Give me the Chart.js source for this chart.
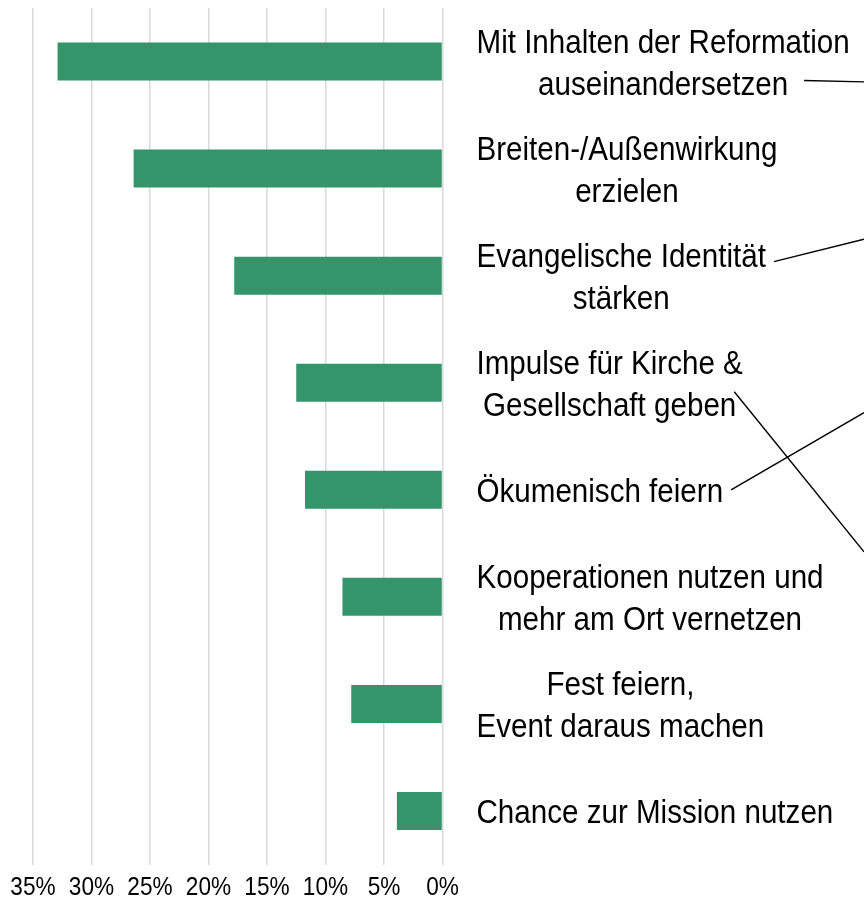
<!DOCTYPE html>
<html>
<head>
<meta charset="utf-8">
<script src="https://cdn.jsdelivr.net/npm/chart.js@4.4.1/dist/chart.umd.min.js"></script>
<style>
  html, body { margin: 0; padding: 0; background: #fff; }
  #wrap { width: 864px; height: 909px; }
</style>
</head>
<body>
<div id="wrap"><canvas id="myBarChart"></canvas></div>
<script>
// categories (one entry per bar, split into lines like the original)
var categories = [
    ['Mit Inhalten der Reformation', 'auseinandersetzen'],
    ['Breiten-/Außenwirkung', 'erzielen'],
    ['Evangelische Identität', 'stärken'],
    ['Impulse für Kirche &', 'Gesellschaft geben'],
    ['Ökumenisch feiern'],
    ['Kooperationen nutzen und', 'mehr am Ort vernetzen'],
    ['Fest feiern,', 'Event daraus machen'],
    ['Chance zur Mission nutzen']
];
// share of answers in percent
var shares = [32.9, 26.4, 17.8, 12.5, 11.75, 8.55, 7.8, 3.9];
var axisMax = 35;
var tickStep = 5;

var FONT = "'Liberation Sans', Arial, sans-serif";
var NARROW = 0.87; // the original uses a condensed face

// leader lines going off to the right edge: from label line end to a category position
var leaders = [
    { cat: 0, line: 1, dx: 16, dy: -2, toCat: 0.19 },
    { cat: 2, line: 0, dx: 8, dy: 7, toCat: 1.66 },
    { cat: 4, line: 0, dx: 8, dy: 0, toCat: 3.28 },
    { cat: 3, line: 1, dx: -2, dy: -12, toCat: 4.58 }
];

function narrowText(ctx, text, x, y, align) {
    ctx.save();
    ctx.translate(x, y);
    ctx.scale(NARROW, 1);
    ctx.textAlign = align;
    ctx.fillText(text, 0, 0);
    ctx.restore();
}

var labelPlugin = {
    id: 'labelPlugin',
    afterDraw: function (chart) {
        var ctx = chart.ctx;
        var xs = chart.scales.x;
        var ys = chart.scales.y;
        ctx.save();
        ctx.fillStyle = '#000';
        ctx.textBaseline = 'alphabetic';

        // x tick labels
        ctx.font = '26px ' + FONT;
        xs.ticks.forEach(function (t) {
            narrowText(ctx, t.value + '%', xs.getPixelForValue(t.value), 895, 'center');
        });

        // category labels right of the bars, lines centred on each other
        ctx.font = '34px ' + FONT;
        var lineH = 42;
        var x0 = xs.right + 34;
        var ends = [];
        categories.forEach(function (lines, i) {
            var cy = ys.getPixelForValue(i);
            var widths = lines.map(function (l) { return ctx.measureText(l).width * NARROW; });
            var w = Math.max.apply(null, widths);
            ends[i] = [];
            lines.forEach(function (l, k) {
                var mid = cy + (k - (lines.length - 1) / 2) * lineH;
                narrowText(ctx, l, x0 + w / 2, mid + 12, 'center');
                ends[i][k] = { x: x0 + w / 2 + widths[k] / 2, y: mid };
            });
        });

        // leader lines
        ctx.strokeStyle = '#000';
        ctx.lineWidth = 1.4;
        leaders.forEach(function (ld) {
            var s = ends[ld.cat][ld.line];
            ctx.beginPath();
            ctx.moveTo(s.x + ld.dx, s.y + ld.dy);
            ctx.lineTo(chart.width, ys.getPixelForValue(ld.toCat));
            ctx.stroke();
        });
        ctx.restore();
    }
};

var chart = new Chart(document.getElementById('myBarChart').getContext('2d'), {
    type: 'bar',
    data: {
        labels: categories,
        datasets: [{
            data: shares,
            backgroundColor: '#339569',
            borderWidth: 0,
            categoryPercentage: 1,
            barPercentage: 0.355
        }]
    },
    options: {
        indexAxis: 'y',
        responsive: true,
        maintainAspectRatio: false,
        animation: false,
        layout: { padding: { left: 33, right: 421.5, top: 8, bottom: 44.5 } },
        plugins: { legend: { display: false }, tooltip: { enabled: false } },
        scales: {
            x: {
                min: 0,
                max: axisMax,
                reverse: true,
                ticks: { stepSize: tickStep, display: false },
                grid: { color: '#d9d9d9', lineWidth: 1.5, drawTicks: false },
                border: { display: false }
            },
            y: {
                display: false,
                grid: { display: false }
            }
        }
    },
    plugins: [labelPlugin]
});
</script>
</body>
</html>
